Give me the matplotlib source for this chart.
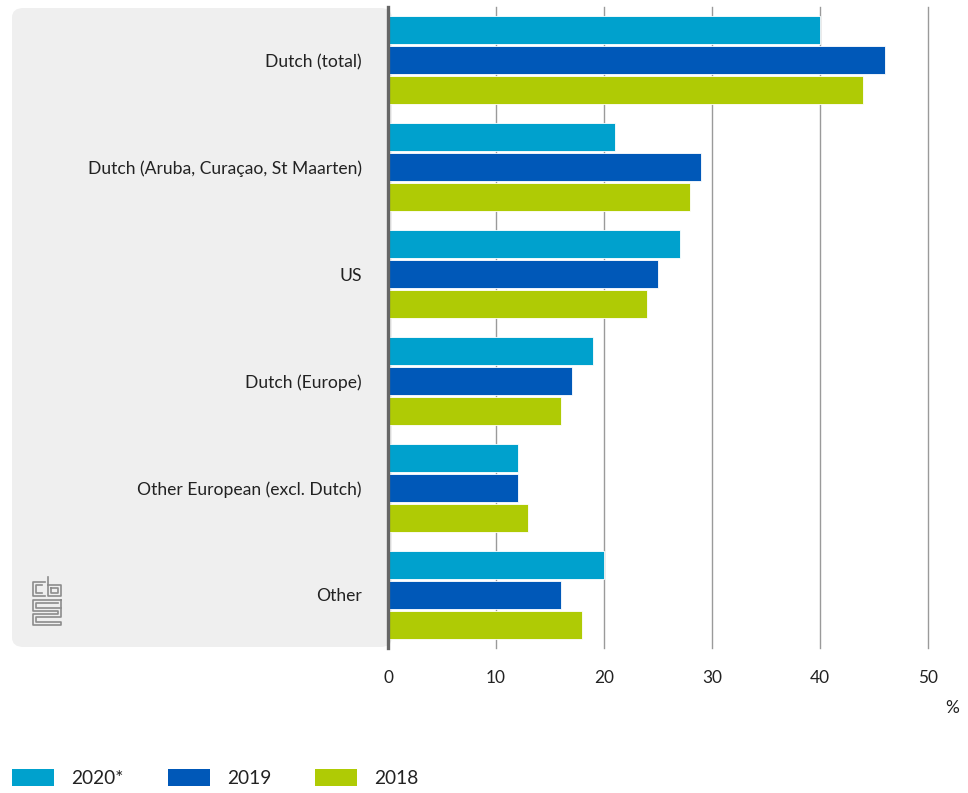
import numpy as np
import matplotlib.pyplot as plt
from matplotlib.patches import FancyBboxPatch, Rectangle
from matplotlib.lines import Line2D

plt.rcParams['font.family'] = ['Lato', 'DejaVu Sans']

categories = ['Dutch (total)', 'Dutch (Aruba, Curaçao, St Maarten)', 'US',
              'Dutch (Europe)', 'Other European (excl. Dutch)', 'Other']
series = ['2020*', '2019', '2018']
v2020 = [40, 21, 27, 19, 12, 20]
v2019 = [46, 29, 25, 17, 12, 16]
v2018 = [44, 28, 24, 16, 13, 18]
colors = ['#00a1cd', '#0058b8', '#afcb05']

W, H = 968, 793
fig = plt.figure(figsize=(W / 100, H / 100), dpi=100)

# grey panel behind the labels
panel = FancyBboxPatch((12 / W, 1 - 647 / H), (392 - 12) / W, (647 - 8) / H,
                       boxstyle='round,pad=0,rounding_size=0.012',
                       transform=fig.transFigure, facecolor='#efefef',
                       edgecolor='none', zorder=-5)
fig.patches.append(panel)

ax = fig.add_axes([388 / W, 1 - 648 / H, 540 / W, 641 / H])
ax.set_facecolor('none')
ax.set_zorder(2)

y = np.arange(len(categories))
bh = 0.262
step = 0.281
for k, vals in enumerate([v2020, v2019, v2018]):
    ax.barh(y + (k - 1) * step, vals, height=bh, color=colors[k],
            edgecolor='white', linewidth=0.6, zorder=3)

ax.set_xlim(0, 50)
ax.set_ylim(len(categories) - 0.5, -0.5)
ax.set_xticks([0, 10, 20, 30, 40, 50])
ax.set_yticks(y)
ax.set_yticklabels(categories, fontsize=12.6, color='#222222')
ax.tick_params(axis='y', length=0, pad=19)
ax.tick_params(axis='x', length=0, pad=16, labelsize=12.4, labelcolor='#222222')
ax.grid(axis='x', color='#9a9a9a', linewidth=1, zorder=1)
for gl in ax.get_xgridlines():
    gl.set_clip_on(False)
for s in ['top', 'right', 'bottom']:
    ax.spines[s].set_visible(False)
ax.spines['left'].set_color('#666666')
ax.spines['left'].set_linewidth(2.4)
ax.spines['left'].set_zorder(4)

fig.text(952 / W, 1 - 708 / H, '%', fontsize=12.4, color='#222222',
         ha='center', va='center')

# legend
legend_x = [12, 168, 315]
for k, name in enumerate(series):
    fig.patches.append(Rectangle((legend_x[k] / W, 1 - 786 / H), 42 / W, 17 / H,
                                 transform=fig.transFigure, facecolor=colors[k],
                                 edgecolor='none'))
    fig.text((legend_x[k] + 59) / W, 1 - 778 / H, name, fontsize=13.8,
             color='#222222', ha='left', va='center')

# cbs logo, drawn roughly
def px(xs, ys):
    return [x / W for x in xs], [1 - v / H for v in ys]

logo = [
    ([45, 33, 33, 45], [582, 582, 596, 596]),
    ([42, 36, 36, 42], [585, 585, 593, 593]),
    ([48, 48, 61, 61, 48], [577, 596, 596, 585, 585]),
    ([51, 51, 58, 58, 51], [588, 593, 593, 588, 588]),
    ([61, 33, 33, 58, 58, 33, 33, 61, 61, 36, 36, 61, 61],
     [600, 600, 611, 611, 614, 614, 625, 625, 622, 622, 617, 617, 600]),
    ([58, 36, 36, 61], [603, 603, 608, 608]),
]
for xs, ys in logo:
    lx, ly = px(xs, ys)
    fig.lines.append(Line2D(lx, ly, transform=fig.transFigure,
                            color='#8c8c8c', linewidth=1.2))

fig.savefig('out.png', dpi=100)
